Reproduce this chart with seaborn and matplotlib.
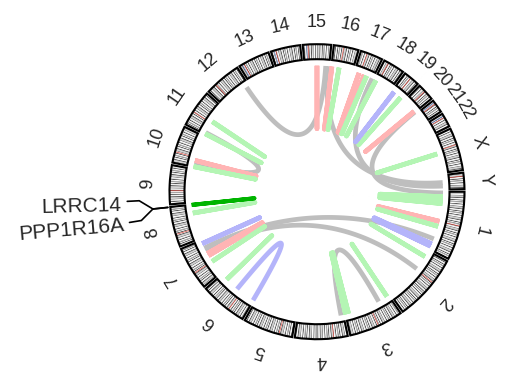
import numpy as np
import matplotlib
matplotlib.use("Agg")
import matplotlib.pyplot as plt
import seaborn as sns

sns.set_theme(style="white")
plt.rcParams['font.family'] = ['Liberation Sans', 'DejaVu Sans']

# chromosomes (hg19, Mb)
chrom_names = ['1', '2', '3', '4', '5', '6', '7', '8', '9', '10', '11', '12',
               '13', '14', '15', '16', '17', '18', '19', '20', '21', '22', 'X', 'Y']
chrom_mb = [249.3, 243.2, 198.0, 191.2, 180.9, 171.1, 159.1, 146.4, 141.2, 135.5,
            135.0, 133.9, 115.2, 107.3, 102.5, 90.4, 81.2, 78.1, 59.1, 63.0,
            48.1, 51.3, 155.3, 59.4]
centromere_mb = [125.0, 93.3, 91.0, 50.4, 48.4, 61.0, 59.9, 45.6, 49.0, 40.2,
                 53.7, 35.8, 17.9, 17.6, 19.0, 36.6, 24.0, 17.2, 26.5, 27.5,
                 13.2, 14.7, 60.6, 12.5]
stalk_chroms = ['13', '14', '15', '21', '22']

# cytoband texture (hand typed pattern, reused along each chromosome)
band_stains = ['gneg', 'gpos100', 'gpos25', 'gneg', 'gpos75', 'gpos25', 'gpos50',
               'gpos100', 'gneg', 'gpos25', 'gpos100', 'gneg', 'gpos75', 'gpos50']
band_sizes = [3.6, 2.4, 3.0, 3.2, 2.5, 3.8, 3.0, 2.2, 3.4, 2.8, 2.4, 3.0, 2.2, 3.0]
stain_colors = {'gneg': '#FFFFFF', 'gpos25': '#D2D2D2', 'gpos50': '#A8A8A8',
                'gpos75': '#5E5E5E', 'gpos100': '#000000',
                'acen': '#E0483E', 'stalk': '#6C8CCB'}

# links: chrom A, position A (Mb), chrom B, position B (Mb), colour
link_chr_a = ['12', '20', '15', '17', '7', '7', '4', '11',
              '15', '16', '17', '17', '20', '1', '7', '7', '10',
              '16', '17', '18', '19', 'X', '1', '1', '1', '1', '2', '3', '3', '3',
              '8', '7', '6', '11', '11', '10',
              '19', '1', '1', '7', '6',
              '8']
link_mb_a = [122, 62.5, 97, 79, 124.3, 111.3, 9.7, 8.3,
             51.2, 2, 19.6, 42.7, 58.3, 125.3, 98.5, 88.4, 27.7,
             32.6, 53.7, 6.6, 45.5, 72.4, 21, 35, 50, 147.4, 27.1, 184.6, 197, 7.7,
             111, 59.8, 142.4, 61.8, 2.8, 1,
             9.6, 225.7, 235.9, 145.3, 83.4,
             145.7]
link_chr_b = ['15', '1', 'Y', 'Y', '1', '2', '3', '10',
              '15', '16', '17', '17', '20', '1', '7', '7', '10',
              '16', '17', '18', '19', 'X', '1', '1', '1', '1', '2', '3', '3', '3',
              '8', '7', '6', '11', '11', '10',
              '19', '1', '1', '7', '6',
              '8']
link_mb_b = [88, 5, 30, 45, 202.7, 88.8, 48.3, 14.8,
             51.2, 2, 19.6, 42.7, 58.3, 125.3, 98.5, 88.4, 27.7,
             32.6, 53.7, 6.6, 45.5, 72.4, 21, 35, 50, 147.4, 27.1, 184.6, 197, 7.7,
             111, 59.8, 142.4, 61.8, 2.8, 1,
             9.6, 225.7, 235.9, 145.3, 1.5,
             145.7]
link_kind = ['gray'] * 8 + ['pink'] * 9 + ['green'] * 19 + ['blue'] * 5 + ['hit']
link_colors = {'gray': '#BEBEBE', 'pink': '#FFB4B4', 'green': '#B4F5B4',
               'blue': '#B4B4FA', 'hit': '#00B400'}

genes = ['LRRC14', 'PPP1R16A']
gene_chr = '8'
gene_mb = 145.7

GAP = 1.0
R_IN, R_OUT, R_LINK = 132.5, 147.5, 126.0

cum = np.concatenate([[0], np.cumsum(chrom_mb)[:-1]])
scale = (360 - GAP * len(chrom_names)) / sum(chrom_mb)


def theta_of(chrom, mb):
    i = chrom_names.index(chrom)
    cw = i * GAP + (cum[i] + mb) * scale
    return -np.deg2rad(cw)


fig = plt.figure(figsize=(5.05, 3.82), dpi=100)
ax = fig.add_axes([137 / 505, (382 - 371.7) / 382, 360 / 505, 360 / 382], projection='polar')
ax.set_ylim(0, 180)
ax.set_axis_off()

# ideogram
for i, name in enumerate(chrom_names):
    length = chrom_mb[i]
    starts, widths, cols = [], [], []
    pos, j = 0.0, i * 5
    while pos < length:
        w = min(band_sizes[j % len(band_sizes)], length - pos)
        starts.append(pos)
        widths.append(w)
        cols.append(stain_colors[band_stains[j % len(band_stains)]])
        pos += w
        j += 1
    starts.append(centromere_mb[i] - 1.2)
    widths.append(2.4)
    cols.append(stain_colors['acen'])
    if name in stalk_chroms:
        starts.append(centromere_mb[i] - 7)
        widths.append(2.4)
        cols.append(stain_colors['stalk'])
    starts = np.array(starts)
    widths = np.array(widths)
    th0 = theta_of(name, starts)
    th1 = theta_of(name, starts + widths)
    ax.bar((th0 + th1) / 2, R_OUT - R_IN, width=np.abs(th0 - th1), bottom=R_IN,
           color=cols, linewidth=0, align='center')
    a0, a1 = theta_of(name, 0), theta_of(name, length)
    ax.bar((a0 + a1) / 2, R_OUT - R_IN, width=abs(a0 - a1), bottom=R_IN,
           fill=False, edgecolor='black', linewidth=1.5, align='center')
    mid = (a0 + a1) / 2
    ax.text(mid, 169, name, rotation=np.rad2deg(mid) - 90, ha='center', va='center',
            fontsize=13, rotation_mode='anchor')

# links (quadratic bezier through the centre)
t = np.linspace(0, 1, 120)[:, None]
for ca, ma, cb, mb_, kind in zip(link_chr_a, link_mb_a, link_chr_b, link_mb_b, link_kind):
    ta, tb = theta_of(ca, ma), theta_of(cb, mb_)
    p0 = R_LINK * np.array([np.cos(ta), np.sin(ta)])
    p2 = R_LINK * np.array([np.cos(tb), np.sin(tb)])
    pts = (1 - t) ** 2 * p0 + t ** 2 * p2
    th = np.unwrap(np.arctan2(pts[:, 1], pts[:, 0]))
    rr = np.hypot(pts[:, 0], pts[:, 1])
    ax.plot(th, rr, color=link_colors[kind], lw=3.4 if kind != 'hit' else 2.9,
            solid_capstyle='butt', zorder=3 if kind == 'hit' else 2)

# gene labels
g = np.rad2deg(theta_of(gene_chr, gene_mb)) % 360
label_theta = [g - 3.1, g + 3.3]
for name, lt, rot, dy in zip(genes, label_theta, [1.5, 5.0], [1.2, 0.6]):
    ax.plot(np.deg2rad([g, g]), [150, 165], color='black', lw=1.2, clip_on=False)
    ax.plot(np.deg2rad([g, lt, lt]), [165, 178, 190], color='black', lw=1.2, clip_on=False)
    ax.text(np.deg2rad(lt + dy), 196, name, ha='right', va='center', fontsize=15,
            rotation=rot, rotation_mode='anchor')

fig.savefig('out.png', dpi=100)
